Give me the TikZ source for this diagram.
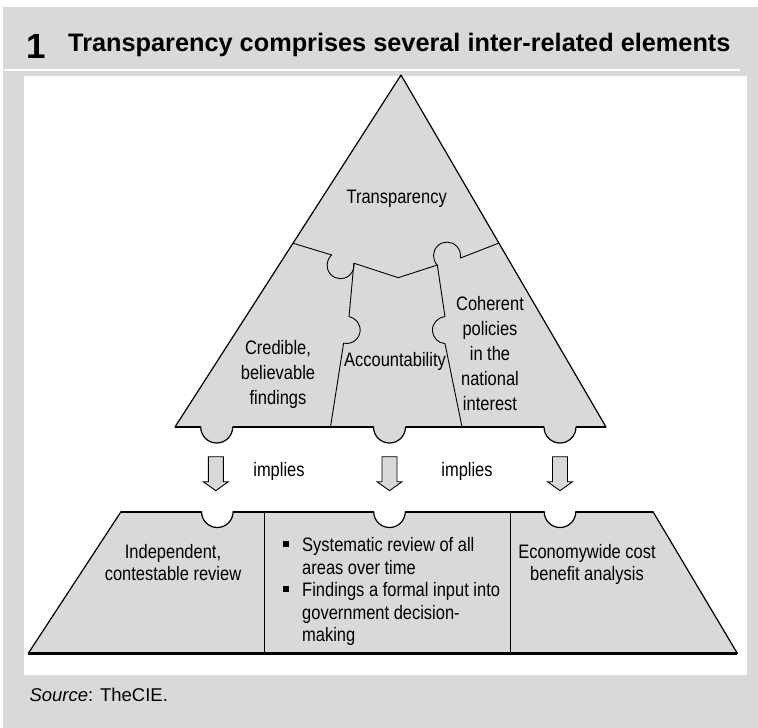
\documentclass[tikz,border=0pt]{standalone}
\usepackage{fontspec}
\setmainfont{Liberation Sans}
\newfontfamily\narrowfont{Liberation Sans}[FakeStretch=0.845]
\definecolor{panelgray}{RGB}{217,217,217}
\begin{document}
\begin{tikzpicture}[x=1pt,y=-1pt,
  piece/.style={fill=panelgray, draw=black, line width=1.2pt, line join=round},
  baseline/.style={draw=black, line width=2.3pt},
  seam/.style={draw=black, line width=0.9pt, line join=round},
  lbl/.style={inner sep=0pt, font=\narrowfont\fontsize{19.5}{25}\selectfont},
  lowlbl/.style={inner sep=0pt, font=\narrowfont\fontsize{19.5}{22.5}\selectfont},
  implyarrow/.pic={
    \filldraw[fill=panelgray, draw=black, line width=0.9pt, line join=miter]
      (-7.5,0) -- (7.5,0) -- (7.5,25) -- (12.5,25) -- (0,34)
      -- (-12.5,25) -- (-7.5,25) -- cycle;
  }]
  \useasboundingbox (0,0) rectangle (758,728);
  % page frame
  \fill[white] (0,0) rectangle (758,728);
  \fill[panelgray] (3,7) rectangle (758,728);
  \fill[white] (24,76) rectangle (747,675);
  \draw[white, line width=1.5pt] (4,70) -- (740,70);

  % heading
  \node[inner sep=0pt, anchor=base, font=\bfseries\fontsize{35}{35}\selectfont] (num) at (36.7,58.3) {1};
  \node[inner sep=0pt, anchor=base west, font=\bfseries\fontsize{25.3}{25}\selectfont] (title) at (68,51.7)
    {Transparency comprises several inter-related elements};

  % upper triangle with three knobs on its base
  \filldraw[piece] (401,75) -- (175,427) -- (200.7,427)
    arc[start angle=180, end angle=0, radius=16] -- (373.5,427)
    arc[start angle=180, end angle=0, radius=16] -- (544,427)
    arc[start angle=180, end angle=0, radius=16] -- (606,427) -- cycle;
  \draw[baseline] (175,427) -- (200.7,427) (232.7,427) -- (373.5,427)
    (405.5,427) -- (544,427) (576,427) -- (606,427);

  % puzzle seams inside the triangle
  \draw[seam] (293.3,243.3) -- (331.7,255)
    arc[start angle=229, end angle=-8.5, radius=13.5] coordinate (k1)
    -- (398.3,277.7) -- (437.3,265) coordinate (k2)
    arc[start angle=136, end angle=370.5, radius=13.5] -- (498.3,243.3);
  \draw[seam] (k1) -- (349,316.7)
    arc[start angle=-80, end angle=103, radius=13.5] -- (330.5,427);
  \draw[seam] (k2) -- (445,316.7)
    arc[start angle=266, end angle=94, radius=13.5] -- (462,427);

  % labels in the triangle
  \node[lbl, anchor=base] (transp) at (396.7,203) {Transparency};
  \node[lbl, anchor=base] (cred) at (278,354)
    {\begin{tabular}[t]{@{}c@{}}Credible,\\believable\\findings\end{tabular}};
  \node[lbl, anchor=base] (acc) at (395,366) {Accountability};
  \node[lbl, anchor=base] (coh) at (490,310)
    {\begin{tabular}[t]{@{}c@{}}Coherent\\policies\\in the\\national\\interest\end{tabular}};

  % arrows and their captions
  \pic (arrL) at (215.8,456.7) {implyarrow};
  \pic (arrM) at (389.5,456.7) {implyarrow};
  \pic (arrR) at (560,456.7) {implyarrow};
  \node[lbl, anchor=base] (impL) at (279,476) {implies};
  \node[lbl, anchor=base] (impR) at (467,476) {implies};

  % lower trapezoid with three sockets
  \filldraw[piece] (121,511.7) -- (201.5,511.7)
    arc[start angle=180, end angle=0, radius=15.8] -- (373.7,511.7)
    arc[start angle=180, end angle=0, radius=15.8] -- (544.2,511.7)
    arc[start angle=180, end angle=0, radius=15.8] -- (653,511.7)
    -- (737.3,653.3) -- (28.3,653.3) -- cycle;
  \draw[baseline] (121,511.7) -- (201.5,511.7) (233.1,511.7) -- (373.7,511.7)
    (405.3,511.7) -- (544.2,511.7) (575.8,511.7) -- (653,511.7);
  \draw[baseline, line width=2.6pt] (28.3,653.3) -- (737.3,653.3);
  \draw[seam] (264.7,511.7) -- (264.7,652);
  \draw[seam] (510.6,511.7) -- (510.6,652);

  % labels in the lower trapezoid
  \node[lowlbl, anchor=base] (indep) at (173,558)
    {\begin{tabular}[t]{@{}c@{}}Independent,\\contestable review\end{tabular}};
  \node[lowlbl, anchor=base] (econ) at (587,558)
    {\begin{tabular}[t]{@{}c@{}}Economywide cost\\benefit analysis\end{tabular}};
  \fill (283,541) rectangle (289,547);
  \fill (283,586) rectangle (289,592);
  \node[lowlbl, anchor=base west] (b1) at (302,551.7) {Systematic review of all};
  \node[lowlbl, anchor=base west] (b2) at (302,574.2) {areas over time};
  \node[lowlbl, anchor=base west] (b3) at (302,596.7) {Findings a formal input into};
  \node[lowlbl, anchor=base west] (b4) at (302,619.2) {government decision-};
  \node[lowlbl, anchor=base west] (b5) at (302,641.7) {making};

  % source line
  \node[inner sep=0pt, anchor=base west, font=\fontsize{18.5}{22}\selectfont] (src) at (29.3,701.7)
    {\textit{Source}: TheCIE.};
\end{tikzpicture}
\end{document}
